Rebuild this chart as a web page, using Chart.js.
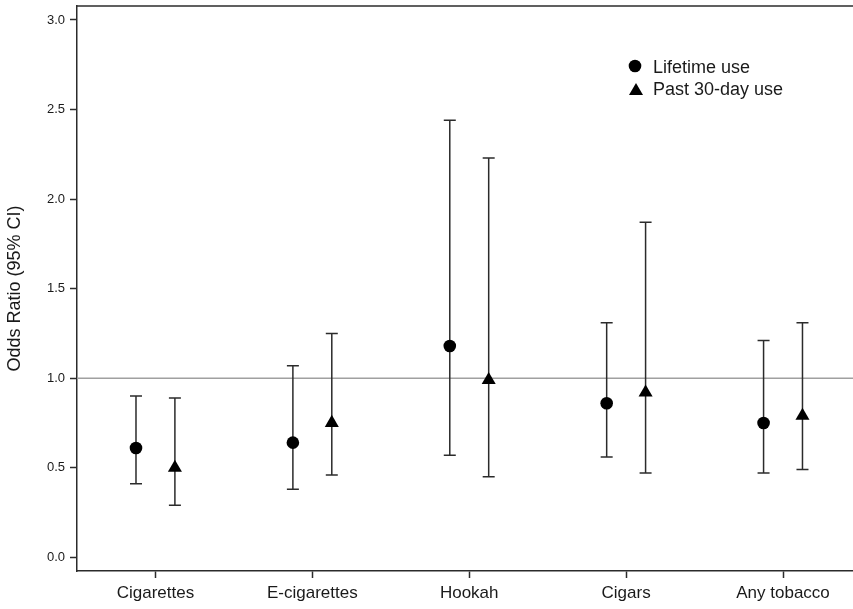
<!DOCTYPE html>
<html>
<head>
<meta charset="utf-8">
<script src="https://cdn.jsdelivr.net/npm/chart.js@4/dist/chart.umd.min.js"></script>
<style>
  html, body { margin: 0; padding: 0; background: #ffffff; }
  #wrap { width: 853px; height: 609px; }
</style>
</head>
<body>
<div id="wrap"><canvas id="c" width="853" height="609"></canvas></div>
<script>
// ---- data ----
const categories = ['Cigarettes', 'E-cigarettes', 'Hookah', 'Cigars', 'Any tobacco'];
const lifetimeOR    = [0.61, 0.64, 1.18, 0.86, 0.75];
const lifetimeLower = [0.41, 0.38, 0.57, 0.56, 0.47];
const lifetimeUpper = [0.90, 1.07, 2.44, 1.31, 1.21];
const past30OR      = [0.50, 0.75, 0.99, 0.92, 0.79];
const past30Lower   = [0.29, 0.46, 0.45, 0.47, 0.49];
const past30Upper   = [0.89, 1.25, 2.23, 1.87, 1.31];
const yTickValues   = [0, 0.5, 1.0, 1.5, 2.0, 2.5, 3.0];
const referenceOR   = 1.0;
const seriesNames   = ['Lifetime use', 'Past 30-day use'];

// ---- layout constants ----
const GROUP_OFFSET = 0.124;
const INK = '#2b2b2b';
const FONT = '"Liberation Sans", Arial, sans-serif';

function points(vals, lo, hi, off) {
  return vals.map((v, i) => ({ x: i + 1 + off, y: v, lo: lo[i], hi: hi[i] }));
}

const errorBars = {
  id: 'errorBars',
  beforeDatasetsDraw(chart) {
    const ctx = chart.ctx, xs = chart.scales.x, ys = chart.scales.y;
    ctx.save();
    ctx.strokeStyle = INK;
    ctx.lineWidth = 1.5;
    chart.data.datasets.forEach(ds => {
      if (!ds.errorBars) return;
      ds.data.forEach(p => {
        const x = xs.getPixelForValue(p.x);
        const y1 = ys.getPixelForValue(p.lo);
        const y2 = ys.getPixelForValue(p.hi);
        ctx.beginPath();
        ctx.moveTo(x, y1); ctx.lineTo(x, y2);
        ctx.moveTo(x - 6, y1); ctx.lineTo(x + 6, y1);
        ctx.moveTo(x - 6, y2); ctx.lineTo(x + 6, y2);
        ctx.stroke();
      });
    });
    ctx.restore();
  }
};

const frame = {
  id: 'frame',
  beforeDatasetsDraw(chart) {
    const ctx = chart.ctx, a = chart.chartArea, ys = chart.scales.y;
    ctx.save();
    const yr = ys.getPixelForValue(referenceOR);
    ctx.strokeStyle = '#a0a0a0';
    ctx.lineWidth = 1.5;
    ctx.beginPath(); ctx.moveTo(a.left, yr); ctx.lineTo(a.right, yr); ctx.stroke();
    ctx.strokeStyle = INK;
    ctx.lineWidth = 1.5;
    ctx.beginPath(); ctx.moveTo(a.left, a.top); ctx.lineTo(a.right, a.top); ctx.stroke();
    ctx.restore();
  },
  afterDraw(chart) {
    const ctx = chart.ctx;
    ctx.save();
    ctx.fillStyle = '#000';
    ctx.beginPath(); ctx.arc(635, 66, 6.3, 0, Math.PI * 2); ctx.fill();
    const r = 8.1, cx = 636, cy = 91;
    ctx.beginPath();
    ctx.moveTo(cx, cy - r);
    ctx.lineTo(cx + r * Math.sin(Math.PI / 3), cy + r / 2);
    ctx.lineTo(cx - r * Math.sin(Math.PI / 3), cy + r / 2);
    ctx.closePath(); ctx.fill();
    ctx.fillStyle = '#1a1a1a';
    ctx.font = '18px ' + FONT;
    ctx.textBaseline = 'alphabetic';
    ctx.fillText(seriesNames[0], 653, 73);
    ctx.fillText(seriesNames[1], 653, 95);
    ctx.restore();
  }
};

function noPad(s) {
  s.paddingLeft = 0; s.paddingRight = 0; s.paddingTop = 0; s.paddingBottom = 0;
}

new Chart(document.getElementById('c'), {
  type: 'scatter',
  data: {
    datasets: [
      {
        label: seriesNames[0],
        data: points(lifetimeOR, lifetimeLower, lifetimeUpper, -GROUP_OFFSET),
        pointStyle: 'circle', pointRadius: 6.3, pointHoverRadius: 6.3,
        backgroundColor: '#000', borderColor: '#000', borderWidth: 0,
        errorBars: true
      },
      {
        label: seriesNames[1],
        data: points(past30OR, past30Lower, past30Upper, GROUP_OFFSET),
        pointStyle: 'triangle', pointRadius: 8.1, pointHoverRadius: 8.1,
        backgroundColor: '#000', borderColor: '#000', borderWidth: 0,
        errorBars: true
      }
    ]
  },
  options: {
    responsive: false,
    animation: false,
    devicePixelRatio: 1,
    layout: { autoPadding: false, padding: { top: 6, right: 0, left: 0, bottom: 0 } },
    plugins: { legend: { display: false }, tooltip: { enabled: false } },
    scales: {
      x: {
        type: 'linear',
        min: 0.5, max: 5.446,
        afterBuildTicks(s) { s.ticks = categories.map((c, i) => ({ value: i + 1 })); },
        afterFit(s) { s.height = 38; noPad(s); },
        ticks: {
          callback: (v) => categories[Math.round(v) - 1],
          color: '#1a1a1a',
          font: { family: FONT, size: 17 },
          padding: 5,
          maxRotation: 0, autoSkip: false
        },
        grid: { drawOnChartArea: false, drawTicks: true, tickLength: 7, tickColor: INK, tickWidth: 1.5 },
        border: { display: true, color: INK, width: 1.5 }
      },
      y: {
        type: 'linear',
        min: -0.0765, max: 3.078,
        afterBuildTicks(s) { s.ticks = yTickValues.map(v => ({ value: v })); },
        afterFit(s) { s.width = 77; noPad(s); },
        ticks: {
          callback: (v) => v.toFixed(1),
          color: '#1a1a1a',
          font: { family: FONT, size: 13 },
          padding: 5
        },
        grid: { drawOnChartArea: false, drawTicks: true, tickLength: 7, tickColor: INK, tickWidth: 1.5 },
        border: { display: true, color: INK, width: 1.5 },
        title: {
          display: true,
          text: 'Odds Ratio (95% CI)',
          color: '#1a1a1a',
          font: { family: FONT, size: 18 },
          padding: { top: 4, bottom: 0 }
        }
      }
    }
  },
  plugins: [frame, errorBars]
});
</script>
</body>
</html>
